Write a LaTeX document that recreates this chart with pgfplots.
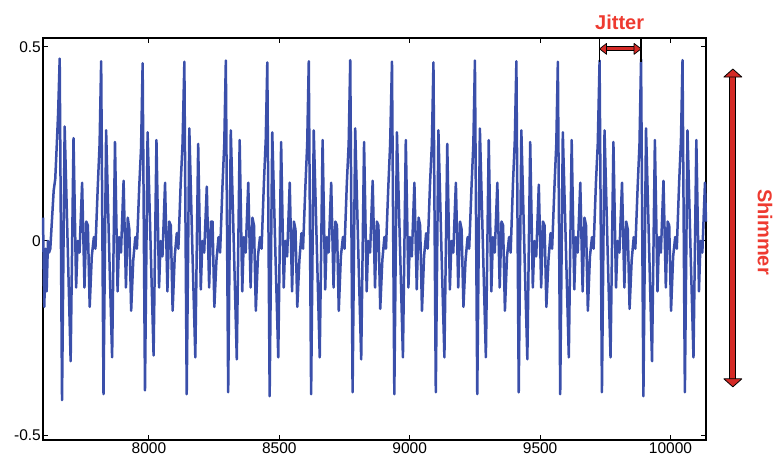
\documentclass[border=0pt]{standalone}
\usepackage{fontspec}
\setmainfont{Liberation Sans}
\usepackage{pgfplots}
\pgfplotsset{compat=1.18}
\usetikzlibrary{calc}
\definecolor{wave}{HTML}{3A4FAA}
\definecolor{cred}{HTML}{D42A26}
\definecolor{tred}{HTML}{EE3A30}

\begin{document}
\begin{tikzpicture}
\begin{axis}[
  scale only axis, width=663pt, height=402pt,
  xmin=7594, xmax=10136, ymin=-0.513, ymax=0.523,
  xtick={8000,8500,9000,9500,10000}, xticklabels={8000,8500,9000,9500,10000},
  ytick={-0.5,0,0.5}, yticklabels={-0.5,0,0.5},
  scaled x ticks=false, scaled y ticks=false,
  tick align=inside, major tick length=5pt,
  axis line style={line width=2.2pt, black},
  tick style={black, line width=0.9pt},
  ticklabel style={font=\fontsize{15.5}{15.5}\selectfont, inner sep=2pt},
  clip=false,
]
\addplot[wave, line width=2.5pt, line join=round] coordinates {
(7594,0.06) (7599,-0.17) (7604,-0.02) (7608,-0.13) (7613,0.00) (7617,-0.03) (7622,-0.02)
(7628,0.05) (7635,0.13) (7641,0.16) (7647,0.25) (7652,0.33)
(7658,0.470) (7667,-0.410) (7677,0.295) (7689,-0.02) (7700,-0.310) (7711,0.265) (7721,-0.12) (7727,0.00) (7734,-0.03) (7744,0.15) (7753,-0.12) (7760,0.05) (7766,0.04) (7773,-0.17) (7781,-0.04) (7789,0.01) (7795,-0.02) (7804,0.14) (7811,0.25)
(7817,0.463) (7826,-0.395) (7836,0.285) (7848,-0.03) (7859,-0.300) (7870,0.255) (7880,-0.13) (7886,0.01) (7893,-0.03) (7903,0.155) (7912,-0.12) (7919,0.06) (7925,0.03) (7932,-0.18) (7940,-0.05) (7948,0.01) (7954,-0.02) (7963,0.14) (7970,0.24)
(7976,0.458) (7985,-0.385) (7995,0.28) (8007,-0.02) (8018,-0.295) (8029,0.26) (8039,-0.12) (8045,0.00) (8052,-0.04) (8062,0.15) (8071,-0.13) (8078,0.05) (8084,0.04) (8091,-0.18) (8099,-0.04) (8107,0.02) (8113,-0.02) (8122,0.15) (8129,0.25)
(8136,0.462) (8145,-0.395) (8155,0.29) (8167,-0.03) (8178,-0.30) (8189,0.25) (8199,-0.125) (8205,0.00) (8212,-0.03) (8222,0.14) (8231,-0.12) (8238,0.05) (8244,0.05) (8251,-0.17) (8259,-0.05) (8267,0.01) (8273,-0.03) (8282,0.14) (8289,0.25)
(8295,0.465) (8304,-0.39) (8314,0.285) (8326,-0.02) (8337,-0.305) (8348,0.26) (8358,-0.13) (8364,0.01) (8371,-0.03) (8381,0.15) (8390,-0.12) (8397,0.06) (8403,0.04) (8410,-0.18) (8418,-0.04) (8426,0.01) (8432,-0.02) (8441,0.15) (8448,0.26)
(8454,0.460) (8463,-0.40) (8473,0.28) (8485,-0.03) (8496,-0.30) (8507,0.255) (8517,-0.12) (8523,0.00) (8530,-0.04) (8540,0.15) (8549,-0.13) (8556,0.05) (8562,0.03) (8569,-0.17) (8577,-0.05) (8585,0.02) (8591,-0.02) (8600,0.14) (8607,0.25)
(8613,0.463) (8622,-0.395) (8632,0.285) (8644,-0.02) (8655,-0.30) (8666,0.26) (8676,-0.125) (8682,0.01) (8689,-0.03) (8699,0.15) (8708,-0.12) (8715,0.05) (8721,0.04) (8728,-0.18) (8736,-0.04) (8744,0.01) (8750,-0.02) (8759,0.15) (8766,0.25)
(8772,0.466) (8781,-0.39) (8791,0.29) (8803,-0.03) (8814,-0.305) (8825,0.255) (8835,-0.13) (8841,0.00) (8848,-0.03) (8858,0.155) (8867,-0.12) (8874,0.05) (8880,0.04) (8887,-0.175) (8895,-0.05) (8903,0.01) (8909,-0.02) (8918,0.14) (8925,0.25)
(8932,0.462) (8941,-0.395) (8951,0.28) (8963,-0.02) (8974,-0.30) (8985,0.26) (8995,-0.12) (9001,0.01) (9008,-0.04) (9018,0.15) (9027,-0.125) (9034,0.06) (9040,0.04) (9047,-0.18) (9055,-0.04) (9063,0.02) (9069,-0.02) (9078,0.15) (9085,0.25)
(9091,0.460) (9100,-0.39) (9110,0.285) (9122,-0.03) (9133,-0.30) (9144,0.25) (9154,-0.125) (9160,0.00) (9167,-0.03) (9177,0.15) (9186,-0.12) (9193,0.05) (9199,0.03) (9206,-0.17) (9214,-0.05) (9222,0.01) (9228,-0.02) (9237,0.14) (9244,0.25)
(9250,0.465) (9259,-0.395) (9269,0.29) (9281,-0.02) (9292,-0.30) (9303,0.26) (9313,-0.13) (9319,0.01) (9326,-0.03) (9336,0.15) (9345,-0.12) (9352,0.05) (9358,0.04) (9365,-0.18) (9373,-0.04) (9381,0.01) (9387,-0.03) (9396,0.15) (9403,0.26)
(9409,0.463) (9418,-0.39) (9428,0.285) (9440,-0.03) (9451,-0.305) (9462,0.255) (9472,-0.12) (9478,0.00) (9485,-0.04) (9495,0.145) (9504,-0.12) (9511,0.05) (9517,0.04) (9524,-0.17) (9532,-0.05) (9540,0.02) (9546,-0.02) (9555,0.14) (9562,0.25)
(9568,0.462) (9577,-0.395) (9587,0.28) (9599,-0.02) (9610,-0.30) (9621,0.26) (9631,-0.125) (9637,0.01) (9644,-0.03) (9654,0.15) (9663,-0.13) (9670,0.06) (9676,0.04) (9683,-0.18) (9691,-0.04) (9699,0.01) (9705,-0.02) (9714,0.15) (9721,0.25)
(9728,0.465) (9737,-0.39) (9747,0.285) (9759,-0.03) (9770,-0.30) (9781,0.255) (9791,-0.12) (9797,0.00) (9804,-0.03) (9814,0.15) (9823,-0.12) (9830,0.05) (9836,0.03) (9843,-0.175) (9851,-0.05) (9859,0.01) (9865,-0.02) (9874,0.14) (9881,0.25)
(9887,0.468) (9896,-0.40) (9906,0.29) (9918,-0.02) (9929,-0.31) (9940,0.26) (9950,-0.13) (9956,0.01) (9963,-0.03) (9973,0.155) (9982,-0.12) (9989,0.05) (9995,0.04) (10002,-0.18) (10010,-0.04) (10018,0.01) (10024,-0.02) (10033,0.15) (10040,0.26)
(10046,0.466) (10055,-0.39) (10065,0.285) (10077,-0.03) (10088,-0.30) (10099,0.26) (10109,-0.13) (10115,0.00) (10122,-0.03) (10132,0.15) (10136,0.05)
};
% annotation anchors
\coordinate (j1) at (axis cs:9728,0.495);
\coordinate (j2) at (axis cs:9887,0.495);
\coordinate (jt1) at (axis cs:9728,0.523);
\coordinate (jb1) at (axis cs:9728,0.462);
\coordinate (jt2) at (axis cs:9887,0.523);
\coordinate (jb2) at (axis cs:9887,0.462);
\coordinate (jlab) at (axis cs:9805,0.546);
\coordinate (s1) at (axis cs:10239,0.443);
\coordinate (s2) at (axis cs:10239,-0.376);
\coordinate (slab) at (axis cs:10362,0.023);
\end{axis}
% Jitter
\draw[black, line width=1.3pt] (jt1) -- (jb1) (jt2) -- (jb2);
\draw[black, line width=5pt] ($(j1)!6pt!(j2)$) -- ($(j2)!6pt!(j1)$);
\draw[cred, line width=3.2pt] ($(j1)!6pt!(j2)$) -- ($(j2)!6pt!(j1)$);
\draw[black, line width=0.7pt, fill=cred, line join=round] (j1) -- ++(7pt,5.5pt) -- ++(0,-11pt) -- cycle;
\draw[black, line width=0.7pt, fill=cred, line join=round] (j2) -- ++(-7pt,5.5pt) -- ++(0,-11pt) -- cycle;
\node[anchor=base, text=tred, font=\bfseries\fontsize{20}{20}\selectfont, inner sep=0pt] at (jlab) {Jitter};
% Shimmer
\draw[black, line width=7pt] ($(s1)!7pt!(s2)$) -- ($(s2)!7pt!(s1)$);
\draw[cred, line width=5pt] ($(s1)!7pt!(s2)$) -- ($(s2)!7pt!(s1)$);
\draw[black, line width=0.8pt, fill=cred, line join=round] (s1) -- ++(-9pt,-8pt) -- ++(18pt,0) -- cycle;
\draw[black, line width=0.8pt, fill=cred, line join=round] (s2) -- ++(-9pt,8pt) -- ++(18pt,0) -- cycle;
\node[rotate=-90, text=tred, font=\bfseries\fontsize{20}{20}\selectfont, inner sep=0pt] at (slab) {Shimmer};
\pgfresetboundingbox
\path ($(current axis.south west)+(-43pt,-19pt)$) rectangle ($(current axis.north east)+(73pt,38pt)$);
\end{tikzpicture}
\end{document}
